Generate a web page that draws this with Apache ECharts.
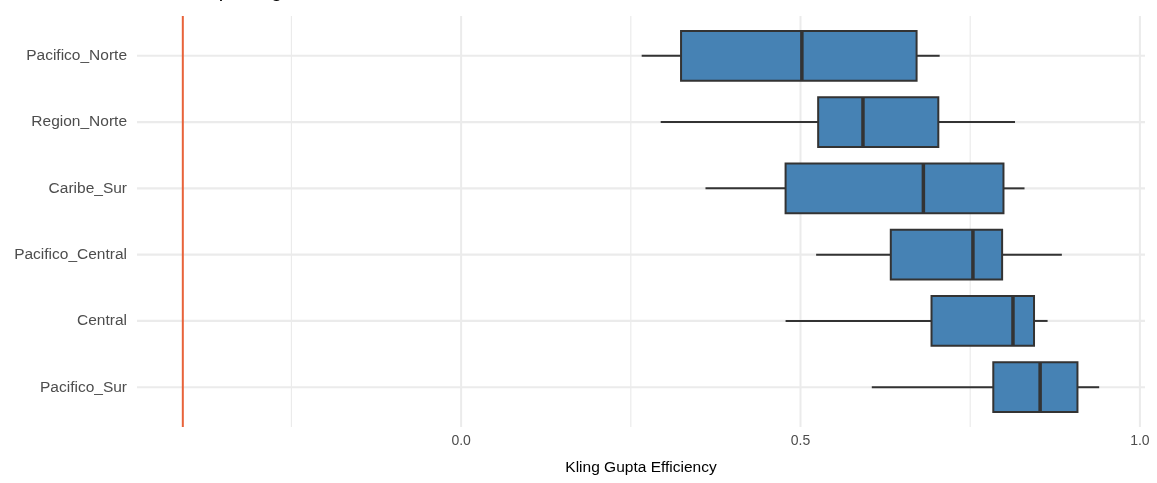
<!DOCTYPE html>
<html><head><meta charset="utf-8">
<script src="https://cdn.jsdelivr.net/npm/echarts@6/dist/echarts.min.js"></script>
<style>html,body{margin:0;padding:0;background:#fff}#c{width:1157px;height:483px}</style>
</head><body><div id="c"></div>
<script>
const regions = ['Pacifico_Norte','Region_Norte','Caribe_Sur','Pacifico_Central','Central','Pacifico_Sur'];
const whiskerLow  = [0.266, 0.294, 0.360, 0.523, 0.478, 0.605];
const q1          = [0.324, 0.526, 0.478, 0.633, 0.693, 0.784];
const median      = [0.502, 0.592, 0.681, 0.754, 0.813, 0.853];
const q3          = [0.671, 0.703, 0.799, 0.797, 0.844, 0.908];
const whiskerHigh = [0.705, 0.816, 0.830, 0.885, 0.864, 0.940];
const benchmark = -0.41;
const xTicks = [0, 0.5, 1.0];
const xMinorTicks = [-0.25, 0.25, 0.75];
const xMin = -0.4775, xMax = 1.0075;
const yMin = 0.4, yMax = 6.6;
const titleText = 'Evaluación del modelo por región';

const chart = echarts.init(document.getElementById('c'), null, {renderer: 'canvas'});
const gridColor = '#EBEBEB';
const font = 'Liberation Sans, Arial, sans-serif';

const vGridData = xTicks.map(v => [v, 1]).concat(xMinorTicks.map(v => [v, 0]));
const hGridData = regions.map((r, i) => [i + 1]);
const boxData = regions.map((r, i) => [i + 1, whiskerLow[i], q1[i], median[i], q3[i], whiskerHigh[i]]);

chart.setOption({
  animation: false,
  backgroundColor: '#fff',
  graphic: [{
    type: 'text', left: 12, top: -19,
    style: {text: titleText, fontSize: 20, fontFamily: font, fill: '#000'}
  }],
  grid: {left: 137, right: 12, top: 16, bottom: 56},
  xAxis: {
    type: 'value', min: xMin, max: xMax,
    axisLine: {show: false}, axisTick: {show: false}, splitLine: {show: false},
    axisLabel: {customValues: xTicks, formatter: v => v.toFixed(1), color: '#4D4D4D', fontSize: 14, fontFamily: font, margin: 7},
    name: 'Kling Gupta Efficiency', nameLocation: 'middle', nameGap: 33,
    nameTextStyle: {color: '#000', fontSize: 15.5, fontFamily: font}
  },
  yAxis: {
    type: 'value', min: yMin, max: yMax, inverse: true,
    axisLine: {show: false}, axisTick: {show: false}, splitLine: {show: false},
    axisLabel: {customValues: [1, 2, 3, 4, 5, 6], formatter: v => regions[Math.round(v) - 1], color: '#4D4D4D', fontSize: 15.5, fontFamily: font, margin: 10}
  },
  series: [
    {
      type: 'custom', silent: true, data: vGridData, encode: {x: 0},
      renderItem: (params, api) => {
        const a = api.coord([api.value(0), yMin]);
        const b = api.coord([api.value(0), yMax]);
        return {type: 'line', shape: {x1: a[0], y1: a[1], x2: b[0], y2: b[1]},
          style: {stroke: gridColor, lineWidth: api.value(1) ? 2 : 1.2}};
      }
    },
    {
      type: 'custom', silent: true, data: hGridData, encode: {y: 0},
      renderItem: (params, api) => {
        const a = api.coord([xMin, api.value(0)]);
        const b = api.coord([xMax, api.value(0)]);
        return {type: 'line', shape: {x1: a[0], y1: a[1], x2: b[0], y2: b[1]},
          style: {stroke: gridColor, lineWidth: 2.2}};
      }
    },
    {
      type: 'custom', silent: true, data: [[benchmark]], encode: {x: 0},
      renderItem: (params, api) => {
        const a = api.coord([api.value(0), yMin]);
        const b = api.coord([api.value(0), yMax]);
        return {type: 'line', shape: {x1: a[0], y1: a[1], x2: b[0], y2: b[1]},
          style: {stroke: '#E8633A', lineWidth: 2}};
      }
    },
    {
      type: 'custom', data: boxData, encode: {x: [1, 2, 3, 4, 5], y: 0},
      renderItem: (params, api) => {
        const y = api.value(0);
        const h = api.size([0, 0.75])[1];
        const pLow = api.coord([api.value(1), y]);
        const pQ1 = api.coord([api.value(2), y]);
        const pMed = api.coord([api.value(3), y]);
        const pQ3 = api.coord([api.value(4), y]);
        const pHigh = api.coord([api.value(5), y]);
        const cy = pMed[1];
        const stroke = '#333333';
        return {type: 'group', children: [
          {type: 'line', shape: {x1: pLow[0], y1: cy, x2: pQ1[0], y2: cy}, style: {stroke, lineWidth: 2}},
          {type: 'line', shape: {x1: pQ3[0], y1: cy, x2: pHigh[0], y2: cy}, style: {stroke, lineWidth: 2}},
          {type: 'rect', shape: {x: pQ1[0], y: cy - h / 2, width: pQ3[0] - pQ1[0], height: h}, style: {fill: '#4682B4', stroke, lineWidth: 2}},
          {type: 'line', shape: {x1: pMed[0], y1: cy - h / 2, x2: pMed[0], y2: cy + h / 2}, style: {stroke, lineWidth: 3.5}}
        ]};
      }
    }
  ]
});
</script>
</body></html>
